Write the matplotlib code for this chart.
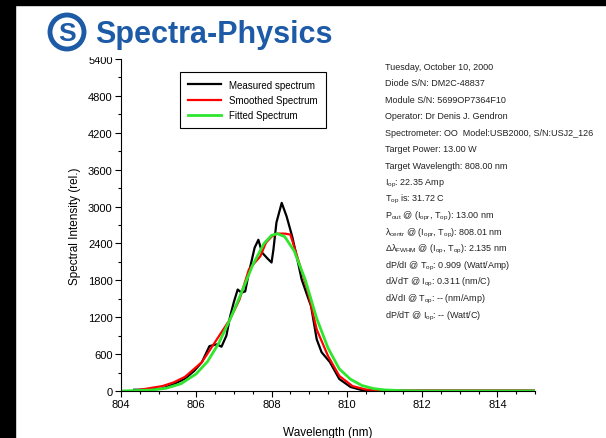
import matplotlib
matplotlib.use('Agg')
import matplotlib.pyplot as plt
from matplotlib.patches import Rectangle, Ellipse

# Datos
wl_med = [804.35, 804.8, 805.1, 805.4, 805.7, 805.95, 806.15, 806.35, 806.55, 806.67,
          806.8, 806.9, 807.0, 807.1, 807.2, 807.3, 807.4, 807.55, 807.65, 807.75,
          807.9, 808.0, 808.05, 808.13, 808.27, 808.4, 808.55, 808.7, 808.8, 808.95,
          809.05, 809.2, 809.33, 809.55, 809.8, 810.1, 810.4, 811.0, 812.0, 813.0, 814.0, 815.0]
int_med = [20, 25, 40, 110, 200, 330, 470, 730, 760, 720,
           900, 1215, 1450, 1650, 1600, 1620, 1930, 2330, 2460, 2250,
           2150, 2090, 2300, 2740, 3060, 2840, 2510, 2100, 1815, 1550,
           1380, 840, 630, 470, 195, 65, 15, 5, 5, 5, 5, 5]

wl_suav = [804.5, 805.1, 805.4, 805.7, 806.15, 806.6, 806.9, 807.15, 807.4, 807.7,
           807.85, 808.0, 808.15, 808.35, 808.5, 808.65, 808.8, 808.95, 809.2, 809.5,
           809.8, 810.15, 810.5, 811.0, 815.0]
int_suav = [20, 80, 140, 230, 470, 890, 1170, 1490, 1980, 2190,
            2410, 2510, 2560, 2560, 2545, 2250, 1950, 1650, 1000, 570,
            245, 80, 25, 5, 5]

wl_ajus = [804.0, 804.8, 805.2, 805.6, 806.0, 806.3, 806.6, 806.9, 807.2, 807.5,
           807.8, 808.0, 808.15, 808.35, 808.6, 808.9, 809.2, 809.5, 809.8, 810.1,
           810.4, 810.7, 811.0, 811.5, 812.0, 815.0]
int_ajus = [0, 15, 45, 120, 280, 480, 780, 1170, 1600, 2050,
            2400, 2530, 2560, 2510, 2280, 1800, 1180, 700, 360, 190,
            90, 40, 18, 5, 0, 0]

info = [
    "Tuesday, October 10, 2000",
    "Diode S/N: DM2C-48837",
    "Module S/N: 5699OP7364F10",
    "Operator: Dr Denis J. Gendron",
    "Spectrometer: OO  Model:USB2000, S/N:USJ2_126",
    "Target Power: 13.00 W",
    "Target Wavelength: 808.00 nm",
    "I$_{op}$: 22.35 Amp",
    "T$_{op}$ is: 31.72 C",
    "P$_{out}$ @ (I$_{opr}$, T$_{op}$): 13.00 nm",
    "λ$_{centr}$ @ (I$_{opr}$, T$_{op}$): 808.01 nm",
    "Δλ$_{FWHM}$ @ (I$_{op}$, T$_{op}$): 2.135 nm",
    "dP/dI @ T$_{op}$: 0.909 (Watt/Amp)",
    "dλ/dT @ I$_{op}$: 0.311 (nm/C)",
    "dλ/dI @ T$_{op}$: -- (nm/Amp)",
    "dP/dT @ I$_{op}$: -- (Watt/C)",
]

plt.rcParams['font.family'] = ['Liberation Sans', 'DejaVu Sans']
plt.rcParams['mathtext.default'] = 'regular'

W, H = 606, 439
fig = plt.figure(figsize=(W / 100, H / 100), dpi=100)
ax = fig.add_axes([121 / W, 1 - 392 / H, (535 - 121) / W, (392 - 60) / H])

ax.plot(wl_med, int_med, color='black', lw=1.6, label='Measured spectrum')
ax.plot(wl_suav, int_suav, color='#ff0000', lw=1.6, label='Smoothed Spectrum')
ax.plot(wl_ajus, int_ajus, color='#2ee62e', lw=2.0, label='Fitted Spectrum')

ax.set_xlim(804, 815)
ax.set_ylim(0, 5400)
ax.set_xticks([804, 806, 808, 810, 812, 814])
ax.set_xticks([804 + 0.5 * i for i in range(23)], minor=True)
ax.set_yticks(range(0, 5401, 600))
ax.set_yticks(range(0, 5401, 300), minor=True)
ax.tick_params(which='major', direction='out', length=4, width=0.8, labelsize=8, pad=2)
ax.tick_params(which='minor', direction='out', length=2.5, width=0.8)
for s in ['top', 'right']:
    ax.spines[s].set_visible(False)
ax.set_xlabel('Wavelength (nm)', fontsize=8.5, labelpad=12)
ax.set_ylabel('Spectral Intensity (rel.)', fontsize=8.5, labelpad=5)

leg = ax.legend(loc='upper left', bbox_to_anchor=(175 / W, 1 - 68 / H),
                bbox_transform=fig.transFigure, fontsize=7, handlelength=3.4,
                handletextpad=0.9, labelspacing=0.55, borderpad=0.8,
                fancybox=False, framealpha=1, edgecolor='black')
leg.get_frame().set_linewidth(0.8)

# Texto de informacion
for i, linea in enumerate(info):
    fig.text(385 / W, 1 - (67 + i * 16.6) / H, linea, fontsize=6.5,
             ha='left', va='center', color='#222222')

# Bordes negros y logo
fig.patches.append(Rectangle((0, 0), 15 / W, 1, transform=fig.transFigure,
                             color='black', zorder=2))
fig.patches.append(Rectangle((0, 1 - 6 / H), 1, 6 / H, transform=fig.transFigure,
                             color='black', zorder=2))
fig.patches.append(Rectangle((15 / W, 1 - 57 / H), 355 / W, 51 / H,
                             transform=fig.transFigure, color='white', zorder=1))
azul = '#1d5ba6'
fig.patches.append(Ellipse((67 / W, 1 - 33 / H), 34 / W, 34 / H, transform=fig.transFigure,
                           fill=False, edgecolor=azul, lw=3.5, zorder=3))
fig.text(67 / W, 1 - 34 / H, 'S', fontsize=19, fontweight='bold', color=azul,
         ha='center', va='center', zorder=4)
fig.text(95 / W, 1 - 35 / H, 'Spectra-Physics', fontsize=22, fontweight='bold',
         color=azul, ha='left', va='center', zorder=4)

fig.savefig('out.png', dpi=100)
